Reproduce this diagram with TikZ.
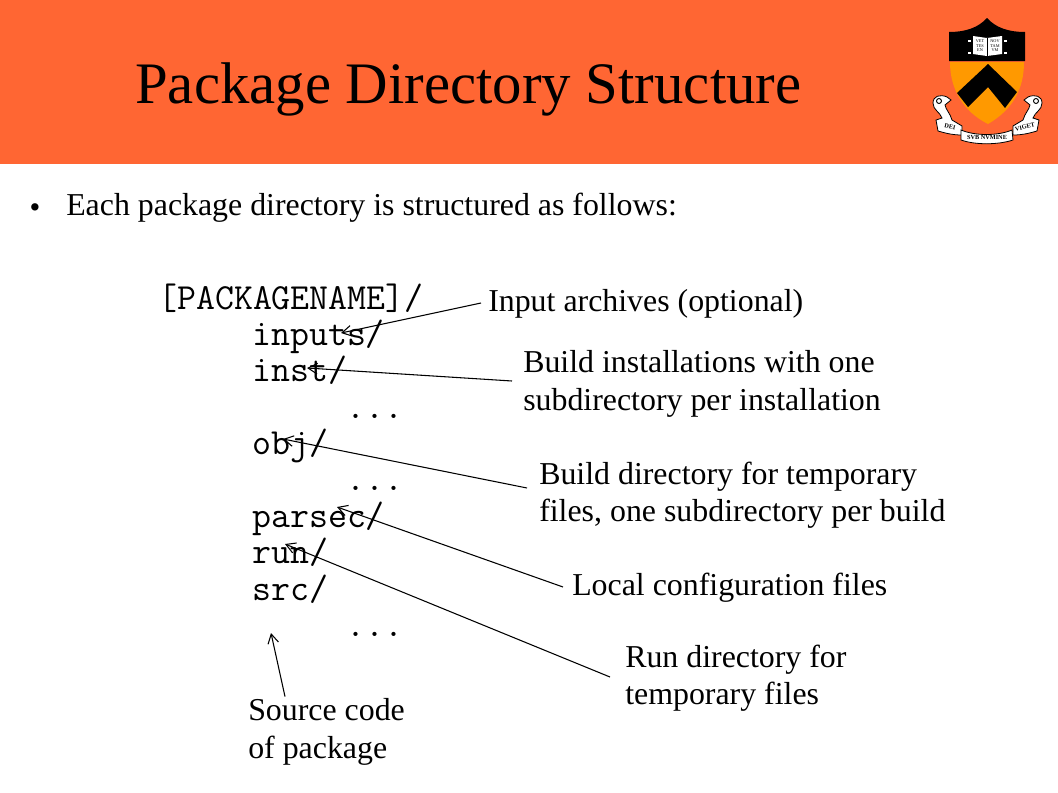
\documentclass[tikz,border=0pt]{standalone}
\usepackage{fontspec}
\setmainfont{Liberation Serif}
\usetikzlibrary{arrows.meta}
\definecolor{cbanner}{HTML}{ff6633}
\definecolor{cshield}{HTML}{ff9900}
\tikzset{
	every picture/.style={x=0.75pt, y=-0.75pt,},
	title/.style={anchor=west, inner sep=0, font=\fontsize{44.1}{44.1}\selectfont,},
	body/.style={anchor=west, inner sep=0, font=\fontsize{23.9}{28}\selectfont, align=left,},
	listing/.style={anchor=base west, inner sep=0, font=\ttfamily\fontsize{27.6}{27.6}\selectfont,},
	pointer/.style={black, line width=0.8pt, -{Straight Barb[length=7pt,width=8pt]},},
	%%%
	scroll/.style={black, fill=white, line width=0.6pt,},
	motto/.style={inner sep=0, font=\bfseries\fontsize{4.7}{4.7}\selectfont,},
	booktext/.style={inner sep=0, font=\fontsize{3.2}{3.4}\selectfont, align=center,},
}
\gdef\W{1058}
\gdef\H{793}
\gdef\Hbanner{164}
\gdef\scrollend{
	\draw[scroll] (933,103) .. controls (933,96) and (940,94) .. (947,97) -- (951,100) -- (945,105) .. controls (946,110) and (950,113) .. (952,120) -- (962,126) -- (962,135) .. controls (952,135) and (945,133) .. (938,131) -- (936,120) -- (942,118) .. controls (940,112) and (933,110) .. (933,103) -- cycle;
	\draw[black, line width=0.7pt] (939,101) circle[radius=2.5];
}

\begin{document}
\begin{tikzpicture}[]

	\useasboundingbox (0,0) rectangle (\W,\H);
	\fill[white] (0,0) rectangle (\W,\H);

	%%% Banner, title

	\fill[cbanner] (0,0) rectangle (\W,\Hbanner);
	\node[title] (title) at (135,89) {Package Directory Structure};

	%%% Crest

	\fill[black] (949,32) .. controls (965,32) and (978,28) .. (987,18) .. controls (996,28) and (1009,32) .. (1025,32) -- (1025,61) -- (949,61) -- cycle;
	\fill[cshield] (950,62) -- (1024,62) .. controls (1024,90) and (1012,110) .. (988,124) .. controls (964,112) and (950,90) .. (950,62) -- cycle;
	\fill[black] (988,64) -- (1017,92) -- (1005,108) -- (988,87) -- (968,107) -- (957,93) -- cycle;
	\fill[white] (973,36) -- (987,38) -- (1002,36) -- (1002,54) -- (987,56) -- (973,54) -- cycle;
	\draw[black, line width=0.4pt] (987,38) -- (987,56);
	\draw[white, line width=1.2pt] (968,41) -- ++(3,0) (968,53) -- ++(3,0) (1004,41) -- ++(3,0) (1004,53) -- ++(3,0);
	\node[booktext] (bookL) at (980,46) {VET\\TES\\EN};
	\node[booktext] (bookR) at (995,46) {NOV\\TAM\\VM};

	\scrollend
	\begin{scope}[shift={(1975,0)}, xscale=-1]
		\scrollend
	\end{scope}
	\draw[scroll] (961,130) .. controls (975,136) and (998,136) .. (1012,130) -- (1013,140) .. controls (998,145) and (975,145) .. (961,140) -- cycle;
	\node[motto, rotate=-12] (motto1) at (950,127) {DEI};
	\node[motto] (motto2) at (987,137) {SVB NVMINE};
	\node[motto, rotate=14] (motto3) at (1025,127) {VIGET};

	%%% Bullet

	\node[inner sep=0, font=\fontsize{23}{23}\selectfont] (bullet) at (35,211) {\textbullet};
	\node[body] (intro) at (66,208) {Each package directory is structured as follows:};

	%%% Listing

	\node[listing] (root) at (158,309) {[PACKAGENAME]/};
	\node[listing] (inputs) at (252,345) {inputs/};
	\node[listing] (inst) at (252,381) {inst/};
	\node[listing] (dotsA) at (346,418) {...};
	\node[listing] (obj) at (252,454) {obj/};
	\node[listing] (dotsB) at (346,490) {...};
	\node[listing] (parsec) at (252,527) {parsec/};
	\node[listing] (run) at (252,563) {run/};
	\node[listing] (src) at (252,600) {src/};
	\node[listing] (dotsC) at (346,636) {...};

	%%% Notes

	\node[body] (noteinputs) at (488,304) {Input archives (optional)};
	\node[body] (noteinst) at (523,384) {Build installations with one\\subdirectory per installation};
	\node[body] (noteobj) at (539,495) {Build directory for temporary\\files, one subdirectory per build};
	\node[body] (noteparsec) at (572,588) {Local configuration files};
	\node[body] (noterun) at (625,678) {Run directory for\\temporary files};
	\node[body] (notesrc) at (248,732) {Source code\\of package};

	%%% Pointers

	\coordinate (tipinputs) at (341,333);
	\coordinate (tipinst) at (307,368);
	\coordinate (tipobj) at (283,439);
	\coordinate (tipparsec) at (337,507);
	\coordinate (tiprun) at (285,544);
	\coordinate (tipsrc) at (271,633);

	\draw[pointer] (noteinputs.west) ++(-7,-1) -- (tipinputs);
	\draw[pointer] (noteinst.west) ++(-11,-3) -- (tipinst);
	\draw[pointer] (noteobj.west) ++(-12,-7) -- (tipobj);
	\draw[pointer] (noteparsec.west) ++(-9,-1) -- (tipparsec);
	\draw[pointer] (noterun.west) ++(-15,-1) -- (tiprun);
	\draw[pointer] (notesrc.north west) ++(37,-2) -- (tipsrc);

\end{tikzpicture}
\end{document}
